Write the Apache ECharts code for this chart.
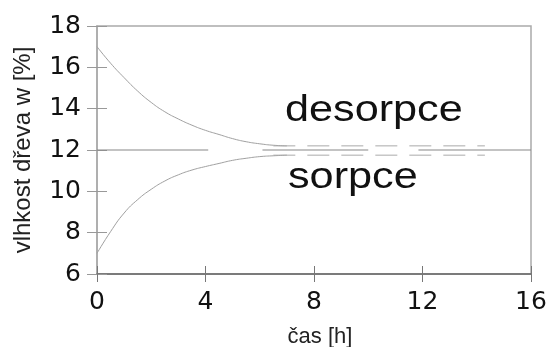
<!DOCTYPE html>
<html>
<head>
<meta charset="utf-8">
<script src="https://cdn.jsdelivr.net/npm/echarts@6/dist/echarts.min.js"></script>
<style>html,body{margin:0;padding:0;background:#fff}#c{width:549px;height:347px}</style>
</head>
<body>
<div id="c"></div>
<script>
// ---- data ----
var xTicks = [0, 4, 8, 12, 16];
var yTicks = [6, 8, 10, 12, 14, 16, 18];
var desorptionT = [0, 0.5, 1, 1.5, 2, 2.5, 3, 3.5, 4, 4.5, 5, 5.5, 6, 6.5, 7];
var desorptionW = [17.0, 16.2, 15.5, 14.85, 14.3, 13.85, 13.5, 13.2, 12.95, 12.75, 12.55, 12.4, 12.3, 12.23, 12.2];
var sorptionT = [0, 0.5, 1, 1.5, 2, 2.5, 3, 3.5, 4, 4.5, 5, 5.5, 6, 6.5, 7];
var sorptionW = [7.0, 8.05, 8.95, 9.6, 10.1, 10.5, 10.8, 11.03, 11.2, 11.35, 11.5, 11.6, 11.68, 11.72, 11.75];
var equilibriumT = [0, 4.1, null, 6.1, 10.0, null, 11.85, 16];
var equilibriumW = 12;
var desorpTailT = [6.5, 14.3];
var desorpTailW = 12.2;
var sorpTailT = [6.5, 14.3];
var sorpTailW = 11.75;
var xName = 'čas [h]';
var yName = 'vlhkost dřeva w [%]';
var label1 = 'desorpce';
var label2 = 'sorpce';

function pairs(t, w) {
  return t.map(function (x, i) { return [x, Array.isArray(w) ? w[i] : w]; });
}
function gapPairs(t, w) {
  return t.map(function (x) { return x === null ? ['-', '-'] : [x, w]; });
}

var chart = echarts.init(document.getElementById('c'), null, {renderer: 'canvas'});
var labelFont = {fontFamily: 'DejaVu Sans', fontSize: 25, color: '#111'};
var option = {
  animation: false,
  backgroundColor: '#fff',
  grid: {left: 97, top: 26, right: 18, bottom: 73, containLabel: false, outerBoundsMode: 'none',
         show: true, borderColor: '#aaa', borderWidth: 1.5, backgroundColor: 'transparent'},
  xAxis: [{
    type: 'value', min: xTicks[0], max: xTicks[xTicks.length - 1], interval: 4,
    axisLine: {show: true, onZero: false, lineStyle: {color: '#666', width: 1.5}},
    axisTick: {show: true, length: 8, lineStyle: {color: '#777'}},
    axisLabel: Object.assign({margin: 16}, labelFont),
    splitLine: {show: false},
    name: xName, nameLocation: 'middle', nameGap: 52,
    nameTextStyle: {fontFamily: 'Liberation Sans', fontSize: 22, color: '#222', padding: [0, 0, 0, 12]}
  }, {
    type: 'value', min: xTicks[0], max: xTicks[xTicks.length - 1], interval: 4, position: 'bottom',
    axisLine: {show: false}, axisTick: {show: true, inside: true, length: 8, lineStyle: {color: '#777'}},
    axisLabel: {show: false}, splitLine: {show: false}
  }],
  yAxis: [{
    type: 'value', min: yTicks[0], max: yTicks[yTicks.length - 1], interval: 2,
    axisLine: {show: true, onZero: false, lineStyle: {color: '#aaa', width: 1.5}},
    axisTick: {show: true, length: 10, lineStyle: {color: '#999'}},
    axisLabel: Object.assign({margin: 16}, labelFont),
    splitLine: {show: false},
    name: yName, nameLocation: 'middle', nameGap: 62,
    nameTextStyle: {fontFamily: 'Liberation Sans', fontSize: 24, color: '#222'}
  }, {
    type: 'value', min: yTicks[0], max: yTicks[yTicks.length - 1], interval: 2, position: 'left',
    axisLine: {show: false}, axisTick: {show: true, inside: true, length: 10, lineStyle: {color: '#999'}},
    axisLabel: {show: false}, splitLine: {show: false}
  }],
  series: [
    {type: 'line', name: 'desorpce', data: pairs(desorptionT, desorptionW), smooth: true, symbol: 'none',
     lineStyle: {color: '#a0a0a0', width: 1}},
    {type: 'line', name: 'sorpce', data: pairs(sorptionT, sorptionW), smooth: true, symbol: 'none',
     lineStyle: {color: '#a0a0a0', width: 1}},
    {type: 'line', name: 'eq', data: gapPairs(equilibriumT, equilibriumW), symbol: 'none', connectNulls: false,
     lineStyle: {color: '#888', width: 1.2}},
    {type: 'line', name: 'dtail', data: pairs(desorpTailT, desorpTailW), symbol: 'none',
     lineStyle: {color: '#aaa', width: 1, type: [22, 12]}},
    {type: 'line', name: 'stail', data: pairs(sorpTailT, sorpTailW), symbol: 'none',
     lineStyle: {color: '#aaa', width: 1, type: [22, 12]}}
  ],
  graphic: [
    {type: 'text', x: 285, y: 111, scaleX: 1.2, z: 100,
     style: {text: label1, x: 0, y: 0, font: '36px "Liberation Sans"', fill: '#111', textAlign: 'left', textVerticalAlign: 'middle'}},
    {type: 'text', x: 288, y: 178, scaleX: 1.2, z: 100,
     style: {text: label2, x: 0, y: 0, font: '36px "Liberation Sans"', fill: '#111', textAlign: 'left', textVerticalAlign: 'middle'}}
  ]
};
chart.setOption(option);
</script>
</body>
</html>
